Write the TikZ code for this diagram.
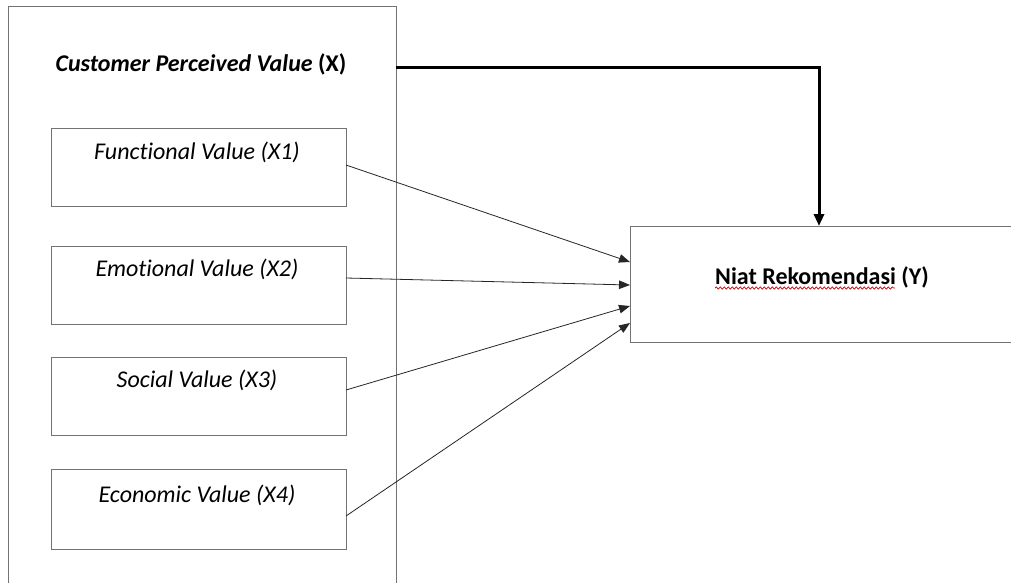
\documentclass[tikz,border=0pt]{standalone}
\usepackage{fontspec}
\setmainfont{Carlito}[Ligatures=NoCommon]
\usetikzlibrary{arrows.meta,decorations.pathmorphing}
\begin{document}
\begin{tikzpicture}[x=1pt,y=-1pt,
  frame/.style={draw=black!55,line width=1pt,inner sep=0pt,outer sep=0pt},
  varbox/.style={frame,minimum width=295pt,minimum height=78pt,anchor=north west},
  vlabel/.style={font=\fontsize{24}{28}\selectfont\itshape,inner sep=0pt},
  thin arrow/.style={draw=black!85,line width=0.8pt,-{Triangle[length=11pt,width=8.5pt]}},
  thick arrow/.style={draw=black,line width=3pt,-{Triangle[length=12pt,width=10pt]}}
]
\useasboundingbox (0,0) rectangle (1011,582);
\clip (0,0) rectangle (1011,582);
\fill[white] (0,0) rectangle (1011,582);
% outer box X
\node[frame,anchor=north west,minimum width=388pt,minimum height=600pt] (X) at (8,6) {};
\node[inner sep=0pt,font=\fontsize{24}{28}\selectfont\bfseries] (title) at (201,64) {\textit{Customer Perceived Value} (X)};
% inner boxes
\node[varbox] (X1) at (51,128) {};
\node[varbox] (X2) at (51,246) {};
\node[varbox,minimum height=78pt] (X3) at (51,357) {};
\node[varbox,minimum height=80pt] (X4) at (51,469) {};
\node[vlabel] (t1) at (197,152) {Functional Value (X1)};
\node[vlabel] (t2) at (197,269) {Emotional Value (X2)};
\node[vlabel] (t3) at (197,380) {Social Value (X3)};
\node[vlabel] (t4) at (197,495) {Economic Value (X4)};
% Y box
\node[frame,anchor=north west,minimum width=400pt,minimum height=116pt] (Y) at (630,226) {};
\node[inner sep=0pt,font=\fontsize{24}{28}\selectfont\bfseries] (ty) at (822,277) {Niat Rekomendasi (Y)};
\draw[red!80!black,line width=0.7pt,decorate,decoration={snake,amplitude=1.1pt,segment length=4pt}]
  ([yshift=-11pt]ty.west) -- ([xshift=-34pt,yshift=-11pt]ty.east);
% connectors
\coordinate (c1) at (X1.east |- 0,165);
\coordinate (c2) at (X2.east |- 0,278);
\coordinate (c3) at (X3.east |- 0,390);
\coordinate (c4) at (X4.east |- 0,516);
\draw[thin arrow] (c1) -- ([yshift=22pt]Y.west);
\draw[thin arrow] (c2) -- ([yshift=-1pt]Y.west);
\draw[thin arrow] (c3) -- ([yshift=-22pt]Y.west);
\draw[thin arrow] (c4) -- ([yshift=-39pt]Y.west);
\coordinate (xs) at (X.east |- 0,67);
\coordinate (ye) at (819,226);
\draw[thick arrow] (xs) -| (ye);
\end{tikzpicture}
\end{document}
